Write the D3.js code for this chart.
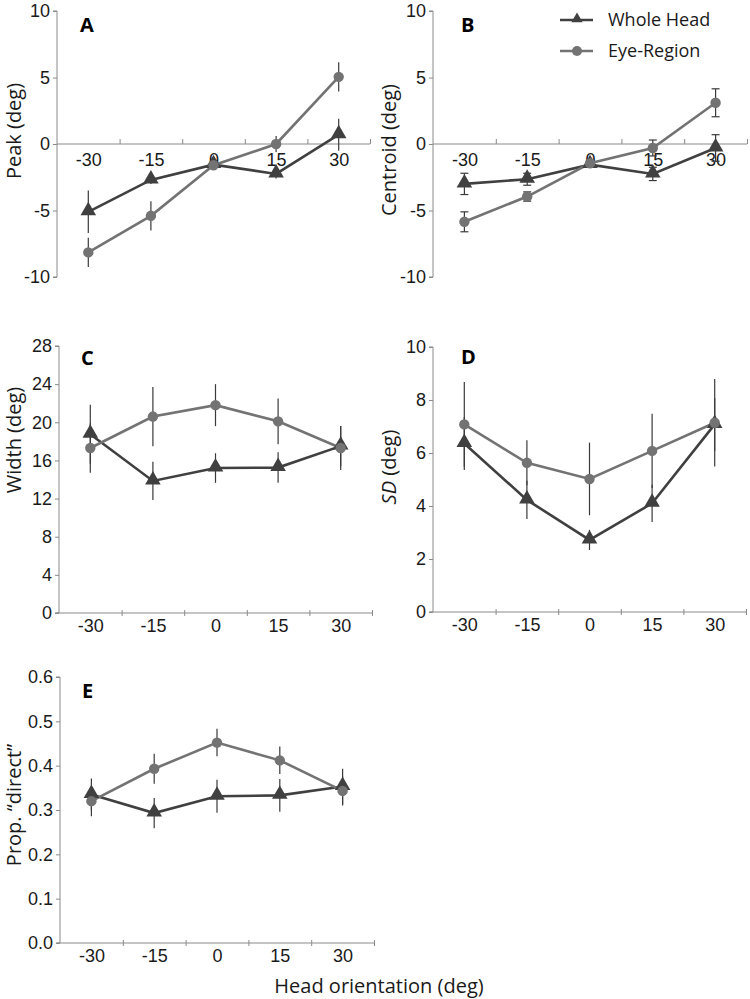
<!DOCTYPE html>
<html>
<head>
<meta charset="utf-8">
<script src="https://cdn.jsdelivr.net/npm/d3@7"></script>
<style>
  html, body { margin: 0; padding: 0; background: #fff; }
  svg { display: block; font-family: "Open Sans", "Liberation Sans", sans-serif; }
</style>
</head>
<body>
<svg id="chart" width="750" height="999"></svg>
<script>
// ---------- data ----------
const orientations = ["-30", "-15", "0", "15", "30"];
const seriesNames = ["Whole Head", "Eye-Region"];

const peakWhole = [-5.1, -2.7, -1.55, -2.25, 0.7];
const peakWholeErr = [1.6, 0.3, 0.2, 0.35, 1.2];
const peakEye = [-8.15, -5.4, -1.6, 0.0, 5.05];
const peakEyeErr = [1.1, 1.1, 0.2, 0.6, 1.1];

const centroidWhole = [-3.0, -2.65, -1.55, -2.25, -0.3];
const centroidWholeErr = [0.8, 0.45, 0.2, 0.5, 1.0];
const centroidEye = [-5.85, -3.95, -1.45, -0.3, 3.1];
const centroidEyeErr = [0.75, 0.35, 0.2, 0.6, 1.05];

const widthWhole = [18.75, 13.85, 15.2, 15.25, 17.5];
const widthWholeErr = [3.1, 2.0, 1.55, 1.6, 2.1];
const widthEye = [17.3, 20.6, 21.8, 20.1, 17.3];
const widthEyeErr = [2.6, 3.1, 2.2, 2.4, 2.3];

const sdWhole = [6.36, 4.23, 2.72, 4.1, 7.08];
const sdWholeErr = [1.0, 0.72, 0.38, 0.7, 1.0];
const sdEye = [7.08, 5.63, 5.02, 6.08, 7.14];
const sdEyeErr = [1.6, 0.85, 1.37, 1.4, 1.65];

const propWhole = [0.335, 0.293, 0.331, 0.333, 0.353];
const propWholeErr = [0.036, 0.034, 0.037, 0.037, 0.04];
const propEye = [0.320, 0.393, 0.452, 0.412, 0.343];
const propEyeErr = [0.034, 0.034, 0.031, 0.031, 0.033];

const peakTicks = [-10, -5, 0, 5, 10];
const widthTicks = [0, 4, 8, 12, 16, 20, 24, 28];
const sdTicks = [0, 2, 4, 6, 8, 10];
const propTicks = [0, 0.1, 0.2, 0.3, 0.4, 0.5, 0.6];

// ---------- styling ----------
const colWhole = "#404040";
const colEye = "#737373";
const axisCol = "#8a8a8a";
const errCol = "#3a3a3a";
const fs = 18;

const svg = d3.select("#chart");
const hyphen = f => v => f(v).replace("\u2212", "-");

function panel(cfg) {
  const g = svg.append("g");
  const x = d3.scalePoint().domain(orientations).range([cfg.x0, cfg.x1]).padding(0.5);
  const xi = d3.scaleLinear().domain([0, orientations.length]).range([cfg.x0, cfg.x1]);
  const y = d3.scaleLinear().domain(cfg.yDomain).range([cfg.yBottom, cfg.yTop]);
  const yAxisLine = y(cfg.xAxisAt);

  // y axis
  const ya = g.append("g").attr("transform", `translate(${cfg.x0},0)`)
    .call(d3.axisLeft(y).tickValues(cfg.yTicks).tickSize(4).tickPadding(3).tickFormat(hyphen(cfg.yFmt)));
  ya.select(".domain").attr("stroke", axisCol).attr("d", `M-4,${cfg.yTop}H0V${cfg.yBottom}H-4`);
  ya.selectAll(".tick line").attr("stroke", axisCol);
  ya.selectAll(".tick text").attr("font-size", fs).attr("fill", "#1a1a1a");

  // x axis boundaries (ticks)
  const xb = g.append("g").attr("transform", `translate(0,${yAxisLine})`)
    .call(d3.axisBottom(xi).tickValues(d3.range(1, orientations.length + 1)).tickSize(cfg.crossTicks ? 3 : -5).tickFormat(""));
  xb.select(".domain").attr("stroke", axisCol).attr("d", `M${cfg.x0 - (cfg.crossTicks ? 3 : 0)},0H${cfg.x1}`);
  xb.selectAll(".tick line").attr("stroke", axisCol);
  if (cfg.crossTicks) xb.selectAll(".tick line").attr("y1", -3);

  // x labels
  const xl = g.append("g").attr("transform", `translate(0,${yAxisLine})`)
    .call(d3.axisBottom(x).tickSize(0).tickPadding(cfg.labelPad));
  xl.select(".domain").remove();
  xl.selectAll(".tick text").attr("font-size", fs).attr("fill", "#1a1a1a");

  // y title
  const t = g.append("text")
    .attr("transform", `translate(${cfg.titleX},${cfg.titleY}) rotate(-90)`)
    .attr("text-anchor", "middle").attr("dy", "0.35em")
    .attr("font-size", 20).attr("fill", "#1a1a1a");
  if (cfg.italicPrefix) {
    t.append("tspan").attr("font-style", "italic").text(cfg.italicPrefix);
  }
  t.append("tspan").text(cfg.title);

  // panel letter
  g.append("text").attr("x", cfg.letterX).attr("y", cfg.letterY)
    .attr("font-size", 20).attr("font-weight", "bold").attr("fill", "#000").text(cfg.letter);

  const series = [
    { vals: cfg.whole, err: cfg.wholeErr, col: colWhole, sym: "tri" },
    { vals: cfg.eye, err: cfg.eyeErr, col: colEye, sym: "circ" }
  ];
  const line = d3.line().x((d, i) => x(orientations[i])).y(d => y(d));

  series.forEach(s => {
    g.append("path").datum(s.vals).attr("d", line)
      .attr("fill", "none").attr("stroke", s.col).attr("stroke-width", 2.6);
  });
  series.forEach(s => {
    s.vals.forEach((v, i) => {
      const cx = x(orientations[i]);
      g.append("line").attr("x1", cx).attr("x2", cx)
        .attr("y1", y(v - s.err[i])).attr("y2", y(v + s.err[i]))
        .attr("stroke", errCol).attr("stroke-width", 1.2);
      if (cfg.caps) {
        [v - s.err[i], v + s.err[i]].forEach(e => {
          g.append("line").attr("x1", cx - 4).attr("x2", cx + 4)
            .attr("y1", y(e)).attr("y2", y(e))
            .attr("stroke", errCol).attr("stroke-width", 1.2);
        });
      }
    });
  });
  series.forEach(s => {
    s.vals.forEach((v, i) => {
      const cx = x(orientations[i]);
      if (s.sym === "tri") {
        g.append("path").attr("d", d3.symbol(d3.symbolTriangle, 105)())
          .attr("transform", `translate(${cx},${y(v) - 1})`).attr("fill", s.col);
      } else {
        g.append("circle").attr("cx", cx).attr("cy", y(v)).attr("r", 5.2).attr("fill", s.col);
      }
    });
  });
}

panel({ letter: "A", letterX: 80, letterY: 32, x0: 57, x1: 370, yTop: 11, yBottom: 277,
  yDomain: [-10, 10], yTicks: peakTicks, yFmt: d3.format("d"), xAxisAt: 0, labelPad: 9,
  title: "Peak (deg)", titleX: 14, titleY: 131,
  whole: peakWhole, wholeErr: peakWholeErr, eye: peakEye, eyeErr: peakEyeErr, caps: false });

panel({ letter: "B", letterX: 461, letterY: 32, x0: 433, x1: 747, yTop: 11, yBottom: 277,
  yDomain: [-10, 10], yTicks: peakTicks, yFmt: d3.format("d"), xAxisAt: 0, labelPad: 9,
  title: "Centroid (deg)", titleX: 389, titleY: 150,
  whole: centroidWhole, wholeErr: centroidWholeErr, eye: centroidEye, eyeErr: centroidEyeErr, caps: true });

panel({ letter: "C", letterX: 81, letterY: 365, x0: 59, x1: 372, yTop: 346, yBottom: 613,
  yDomain: [0, 28], yTicks: widthTicks, yFmt: d3.format("d"), xAxisAt: 0, labelPad: 6, crossTicks: true,
  title: "Width (deg)", titleX: 14, titleY: 440,
  whole: widthWhole, wholeErr: widthWholeErr, eye: widthEye, eyeErr: widthEyeErr, caps: false });

panel({ letter: "D", letterX: 461, letterY: 364, x0: 433, x1: 746, yTop: 347, yBottom: 612,
  yDomain: [0, 10], yTicks: sdTicks, yFmt: d3.format("d"), xAxisAt: 0, labelPad: 6, crossTicks: true,
  title: " (deg)", italicPrefix: "SD", titleX: 389, titleY: 467,
  whole: sdWhole, wholeErr: sdWholeErr, eye: sdEye, eyeErr: sdEyeErr, caps: false });

panel({ letter: "E", letterX: 82, letterY: 698, x0: 60, x1: 374, yTop: 677, yBottom: 943,
  yDomain: [0, 0.6], yTicks: propTicks, yFmt: d3.format(".1f"), xAxisAt: 0, labelPad: 6, crossTicks: true,
  title: "Prop. \u201Cdirect\u201D", titleX: 14, titleY: 805,
  whole: propWhole, wholeErr: propWholeErr, eye: propEye, eyeErr: propEyeErr, caps: false });

// x-axis title
svg.append("text").attr("x", 379).attr("y", 993).attr("text-anchor", "middle")
  .attr("font-size", 20).attr("fill", "#1a1a1a").text("Head orientation (deg)");

// legend
const legend = svg.append("g");
const legendCols = [colWhole, colEye];
const legendY = d3.scalePoint().domain(seriesNames).range([20, 51]);
seriesNames.forEach((name, i) => {
  const ly = legendY(name);
  legend.append("line").attr("x1", 560).attr("x2", 593).attr("y1", ly).attr("y2", ly)
    .attr("stroke", legendCols[i]).attr("stroke-width", 2.6);
  if (i === 0) {
    legend.append("path").attr("d", d3.symbol(d3.symbolTriangle, 55)())
      .attr("transform", `translate(577,${ly - 1})`).attr("fill", legendCols[i]);
  } else {
    legend.append("circle").attr("cx", 577).attr("cy", ly).attr("r", 5).attr("fill", legendCols[i]);
  }
  legend.append("text").attr("x", 608).attr("y", ly).attr("dy", "0.35em")
    .attr("font-size", 18).attr("fill", "#1a1a1a").text(name);
});
</script>
</body>
</html>
